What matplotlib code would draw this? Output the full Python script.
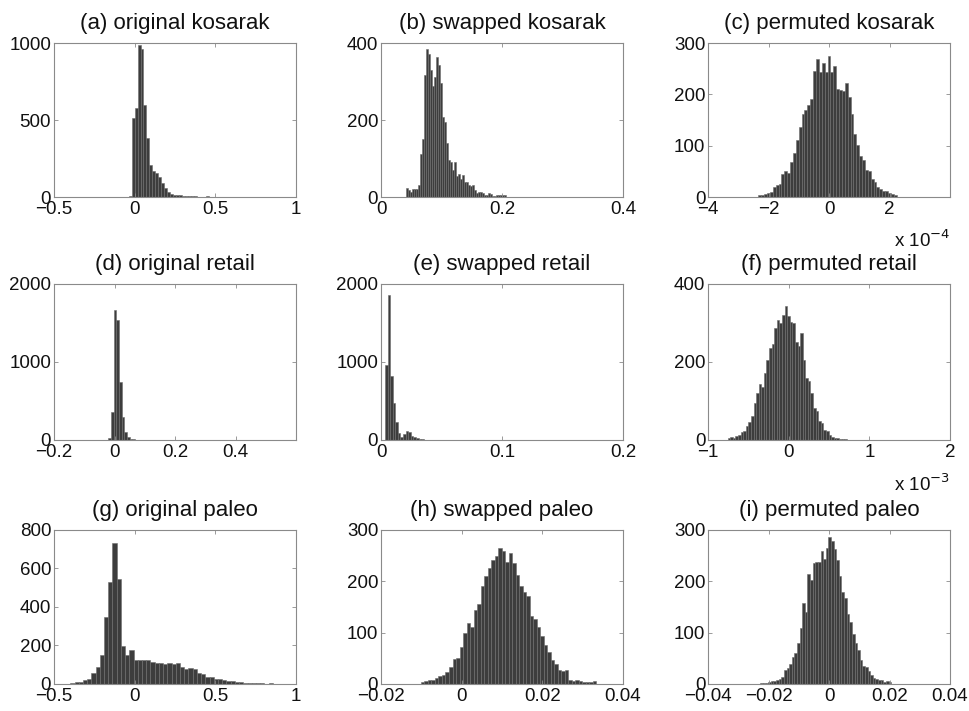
import numpy as np
import matplotlib
matplotlib.use("Agg")
import matplotlib.pyplot as plt

plt.rcParams["font.family"] = ["Liberation Sans", "DejaVu Sans"]
plt.rcParams["axes.unicode_minus"] = True

# ---- histogram data: first bin left edge, bin width, counts ----
a_x0, a_bw = -0.037, 0.0184
a_counts = [5, 511, 576, 985, 961, 597, 381, 208, 169, 154, 128, 93, 61, 35, 22,
            13, 11, 11, 9, 6, 8, 4, 6, 2, 2, 2, 5, 2]

b_x0, b_bw = 0.0413, 0.00332
b_counts = [23, 17, 14, 21, 21, 22, 32, 112, 150, 317, 384, 372, 330, 289, 311,
            364, 343, 295, 209, 196, 140, 97, 92, 71, 92, 54, 60, 47, 58, 40,
            38, 32, 28, 30, 19, 10, 14, 14, 10, 4, 6, 10, 8, 3, 2, 4, 5, 4, 4, 4]

c_x0, c_bw = -2.43e-4, 0.095e-4
c_counts = [1, 3, 4, 6, 8, 9, 19, 24, 25, 44, 50, 47, 69, 86, 112, 136, 161, 170,
            180, 190, 246, 268, 243, 261, 244, 274, 244, 255, 210, 208, 207, 222,
            194, 161, 122, 102, 80, 73, 53, 50, 35, 30, 19, 16, 11, 11, 8, 5, 3, 1]

d_x0, d_bw = -0.021, 0.00884
d_counts = [21, 363, 1667, 1538, 748, 291, 98, 43, 17, 9, 4]

e_x0, e_bw = 0.0033, 0.00213
e_counts = [955, 1853, 818, 480, 227, 87, 33, 78, 117, 98, 56, 41, 26, 17, 9, 4]

f_x0, f_bw = -0.757e-3, 0.0321e-3
f_counts = [4, 7, 5, 9, 14, 20, 22, 35, 45, 62, 94, 120, 143, 135, 171, 205, 236,
            247, 286, 307, 300, 320, 343, 318, 303, 299, 250, 240, 274, 205, 160,
            150, 121, 81, 75, 48, 43, 25, 22, 13, 8, 6, 4, 3, 2, 2, 1, 1, 1, 1]

g_x0, g_bw = -0.425, 0.02616
g_counts = [2, 3, 9, 12, 19, 26, 57, 88, 148, 347, 531, 734, 543, 196, 149, 175,
            122, 122, 122, 122, 113, 111, 111, 106, 111, 102, 109, 88, 76, 83, 80,
            59, 50, 38, 35, 26, 26, 19, 17, 14, 9, 9, 5, 7, 3, 3, 3, 2, 5, 2]

h_x0, h_bw = -0.0101, 0.00087
h_counts = [3, 6, 7, 8, 12, 15, 18, 23, 33, 49, 51, 72, 100, 119, 111, 145, 155,
            191, 211, 226, 241, 249, 265, 260, 238, 256, 236, 212, 191, 180, 171,
            132, 126, 111, 93, 75, 62, 46, 38, 28, 25, 27, 7, 5, 7, 6, 3, 3, 3, 5]

i_x0, i_bw = -0.0227, 0.000865
i_counts = [2, 1, 1, 3, 5, 5, 7, 9, 14, 28, 31, 38, 53, 60, 80, 110, 158, 140,
            215, 203, 236, 237, 238, 260, 244, 264, 286, 278, 262, 241, 210, 180,
            167, 137, 121, 98, 79, 66, 46, 36, 33, 25, 17, 12, 10, 7, 8, 4, 5, 3]

titles = ["(a) original kosarak", "(b) swapped kosarak", "(c) permuted kosarak",
          "(d) original retail", "(e) swapped retail", "(f) permuted retail",
          "(g) original paleo", "(h) swapped paleo", "(i) permuted paleo"]

M = "\u2212"
panels = [
    (a_x0, a_bw, a_counts, (-0.5, 1), [-0.5, 0, 0.5, 1], [M + "0.5", "0", "0.5", "1"],
     (0, 1000), [0, 500, 1000], None),
    (b_x0, b_bw, b_counts, (0, 0.4), [0, 0.2, 0.4], ["0", "0.2", "0.4"],
     (0, 400), [0, 200, 400], None),
    (c_x0, c_bw, c_counts, (-4e-4, 3.99e-4), [-4e-4, -2e-4, 0, 2e-4],
     [M + "4", M + "2", "0", "2"], (0, 300), [0, 100, 200, 300], -4),
    (d_x0, d_bw, d_counts, (-0.2, 0.599), [-0.2, 0, 0.2, 0.4],
     [M + "0.2", "0", "0.2", "0.4"], (0, 2000), [0, 1000, 2000], None),
    (e_x0, e_bw, e_counts, (0, 0.2), [0, 0.1, 0.2], ["0", "0.1", "0.2"],
     (0, 2000), [0, 1000, 2000], None),
    (f_x0, f_bw, f_counts, (-1e-3, 2e-3), [-1e-3, 0, 1e-3, 2e-3],
     [M + "1", "0", "1", "2"], (0, 400), [0, 200, 400], -3),
    (g_x0, g_bw, g_counts, (-0.5, 1), [-0.5, 0, 0.5, 1], [M + "0.5", "0", "0.5", "1"],
     (0, 800), [0, 200, 400, 600, 800], None),
    (h_x0, h_bw, h_counts, (-0.02, 0.04), [-0.02, 0, 0.02, 0.04],
     [M + "0.02", "0", "0.02", "0.04"], (0, 300), [0, 100, 200, 300], None),
    (i_x0, i_bw, i_counts, (-0.04, 0.04), [-0.04, -0.02, 0, 0.02, 0.04],
     [M + "0.04", M + "0.02", "0", "0.02", "0.04"], (0, 300), [0, 100, 200, 300], None),
]

fig = plt.figure(figsize=(9.69, 7.11), dpi=100)
lefts = [0.0557, 0.3932, 0.7307]
bottoms = [0.7229, 0.3812, 0.0380]
heights = [0.2166, 0.2194, 0.2166]
frame = "#8a8a8a"

for k, (x0, bw, counts, xl, xt, xtl, yl, yt, expo) in enumerate(panels):
    r, c = divmod(k, 3)
    ax = fig.add_axes([lefts[c], bottoms[r], 0.2497, heights[r]])
    counts = np.asarray(counts, dtype=float)
    edges = x0 + bw * np.arange(len(counts))
    ax.bar(edges, counts, width=bw, align="edge", color="#3d3d3d",
           edgecolor="#6e6e6e", linewidth=0.4)
    ax.set_xlim(*xl); ax.set_ylim(*yl)
    ax.set_xticks(xt); ax.set_xticklabels(xtl)
    ax.set_yticks(yt)
    ax.tick_params(direction="in", length=3, width=0.6, color=frame,
                   top=True, right=True, labelsize=13.5, labelcolor="#111111")
    ax.tick_params(axis="x", pad=3)
    ax.tick_params(axis="y", pad=2)
    for s in ax.spines.values():
        s.set_color(frame); s.set_linewidth(0.8)
    ax.set_title(titles[k], fontsize=16, pad=10, color="#111111")
    if expo is not None:
        ax.text(1.0, -0.325, r"x 10$^{%d}$" % expo, transform=ax.transAxes,
                ha="right", va="baseline", fontsize=13.5, color="#111111")

fig.savefig("out.png", dpi=100)
